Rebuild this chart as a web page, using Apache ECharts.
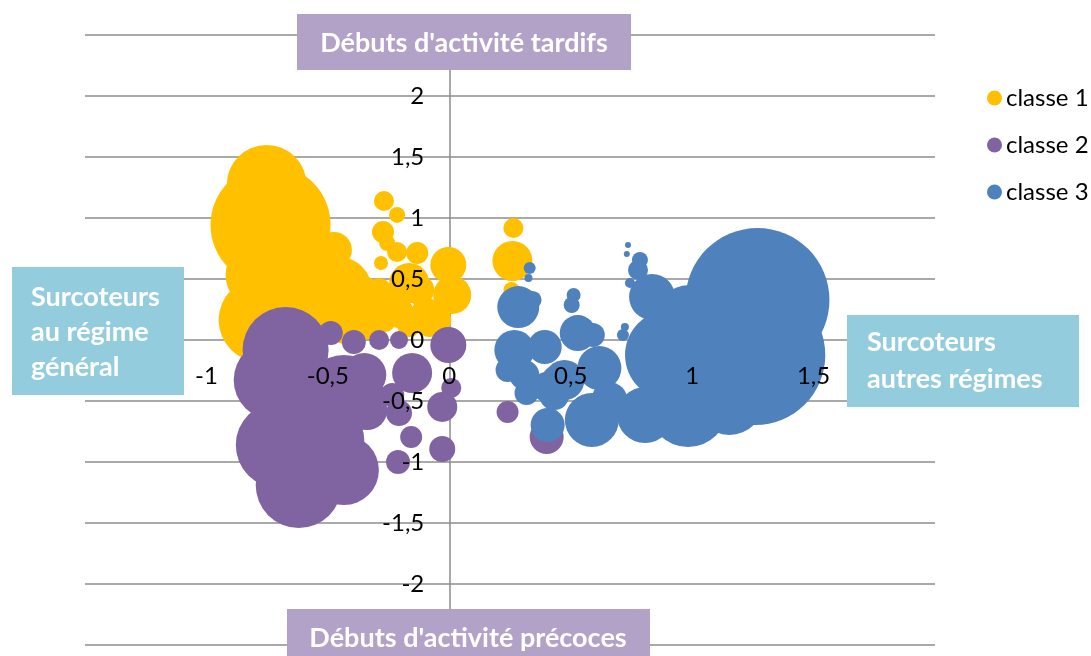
<!DOCTYPE html>
<html>
<head>
<meta charset="utf-8">
<script src="https://cdn.jsdelivr.net/npm/echarts@6/dist/echarts.min.js"></script>
<style>html,body{margin:0;padding:0;background:#fff;}#c{width:1091px;height:656px;}</style>
</head>
<body>
<div id="c"></div>
<script>
// Bubble data: [x, y, size]
const classe1 = [
  [-0.752, 1.270, 16], [-0.736, 0.943, 36], [-0.777, 0.533, 12.25], [-0.777, 0.164, 17.6],
  [-0.597, 0.656, 12.25], [-0.576, 0.328, 12.25], [-0.371, 0.328, 6.25], [-0.350, 0.123, 2.25],
  [-0.455, 0.410, 10.9], [-0.475, 0.738, 3.24], [-0.413, 0.164, 6.25],
  [-0.269, 1.139, 1], [-0.215, 1.025, 0.64], [-0.273, 0.885, 1.21], [-0.256, 0.795, 0.64],
  [-0.215, 0.721, 1], [-0.132, 0.713, 1.21], [-0.281, 0.631, 0.49], [-0.004, 0.615, 3.24],
  [0.012, 0.369, 3.61], [-0.165, 0.467, 4], [-0.207, 0.221, 2.25], [-0.095, 0.221, 2.25],
  [-0.289, 0.410, 1.44], [-0.041, 0.164, 1.44], [-0.226, 0.328, 2.25], [-0.124, 0.410, 2.25],
  [-0.082, 0.123, 1.44], [-0.268, 0.164, 1.44], [-0.165, 0.123, 1.44],
  [0.264, 0.918, 1], [0.260, 0.648, 4], [0.256, 0.410, 0.64]
];
const classe2 = [
  [-0.674, -0.082, 18.5], [-0.723, -0.328, 16], [-0.702, -0.861, 18.5], [-0.620, -1.189, 18.5],
  [-0.434, -1.066, 12.25], [-0.434, -0.451, 16], [-0.576, -0.574, 16], [-0.494, -0.820, 12.25],
  [-0.350, -0.287, 4.84], [-0.338, -0.574, 4], [-0.235, -0.451, 1.44],
  [-0.488, 0.057, 1.44], [-0.393, -0.016, 1.44],
  [-0.289, 0.000, 1], [-0.207, 0.000, 0.81], [-0.153, -0.270, 4], [-0.207, -0.598, 1.69],
  [-0.157, -0.795, 1.21], [-0.211, -1.000, 1.44], [-0.004, -0.041, 3.24], [0.008, -0.393, 1],
  [-0.029, -0.549, 2.25], [-0.029, -0.893, 1.69], [0.240, -0.590, 1.21], [0.401, -0.795, 2.89]
];
const classe3 = [
  [0.331, 0.590, 0.36], [0.326, 0.508, 0.16], [0.284, 0.270, 4.41], [0.343, 0.328, 0.81],
  [0.512, 0.369, 0.49], [0.504, 0.287, 0.64], [0.268, -0.082, 4], [0.393, -0.057, 2.89],
  [0.240, -0.246, 1.44], [0.318, -0.434, 1.44], [0.401, -0.385, 2.25], [0.529, 0.057, 3.24],
  [0.591, 0.041, 1.44], [0.618, -0.230, 4.84], [0.587, -0.656, 7.29], [0.405, -0.697, 2.89],
  [0.442, -0.328, 2.25], [0.309, -0.287, 2.25], [0.432, -0.451, 2.25], [0.474, -0.328, 4],
  [0.659, -0.492, 3.24],
  [0.736, 0.779, 0.09], [0.731, 0.705, 0.09], [0.785, 0.656, 0.64],
  [0.777, 0.574, 1], [0.744, 0.467, 0.25], [0.835, 0.352, 5.29], [0.723, 0.107, 0.16],
  [0.715, 0.041, 0.36], [0.806, -0.615, 7.84], [0.983, -0.549, 16], [0.909, -0.123, 20.25],
  [0.988, 0.164, 12.25], [1.153, -0.492, 12.25],
  [1.269, 0.328, 51.8], [1.260, -0.123, 49]
];
const seriesNames = ['classe 1', 'classe 2', 'classe 3'];
const xTicks = [-1, -0.5, 0, 0.5, 1, 1.5];
const yTicks = [-2, -1.5, -1, -0.5, 0, 0.5, 1, 1.5, 2];
const boxTop = "Débuts d'activité tardifs";
const boxBottom = "Débuts d'activité précoces";
const boxLeft = "Surcoteurs\nau régime\ngénéral";
const boxRight = "Surcoteurs\nautres régimes";

const colors = ['#FFC000', '#8064A2', '#4F81BD'];
const FONT = 'Lato, "Open Sans", sans-serif';
const fmt = (ticks) => (v) => {
  const hit = ticks.some(t => Math.abs(t - v) < 1e-9);
  return hit ? String(v).replace('.', ',') : '';
};
const gridColor = '#8c8c8c';

const chart = echarts.init(document.getElementById('c'), null, {renderer: 'canvas'});
const sz = (v) => 20 * Math.sqrt(v[2]);
const mk = (name, data, color) => ({
  name, type: 'scatter', data, xAxisIndex: 0, yAxisIndex: 0,
  symbolSize: sz, itemStyle: {color, opacity: 1}, emphasis: {disabled: true}, z: 2
});

// grid geometry
const G = {left: 85, right: 156, top: 35, bottom: 11};
const W = 1091, H = 656;
const xMin = -1.5, xMax = 2, yMin = -2.5, yMax = 2.5;
const plotW = W - G.left - G.right, plotH = H - G.top - G.bottom;
const zeroXOffset = -((0 - xMin) / (xMax - xMin)) * plotW;   // left axis moved to x=0
const zeroYOffset = -((0 - yMin) / (yMax - yMin)) * plotH;   // bottom axis moved to y=0

chart.setOption({
  animation: false,
  color: colors,
  grid: Object.assign({containLabel: false, outerBoundsMode: 'none'}, G),
  xAxis: [
    {type: 'value', min: xMin, max: xMax, interval: 0.5, z: 0,
     axisLine: {show: false, onZero: false},
     axisTick: {show: false}, axisLabel: {show: false}, splitLine: {show: false}},
    {type: 'value', min: xMin, max: xMax, interval: 0.5, position: 'bottom', offset: zeroYOffset, z: 10,
     axisLine: {show: false, onZero: false},
     axisTick: {show: false}, splitLine: {show: false},
     axisLabel: {show: true, margin: 24, color: '#000', fontSize: 24, fontFamily: FONT, formatter: fmt(xTicks)}}
  ],
  yAxis: [
    {type: 'value', min: yMin, max: yMax, interval: 0.5, z: 0,
     axisLine: {show: true, onZero: true, onZeroAxisIndex: 0, lineStyle: {color: gridColor, width: 1.5}},
     axisTick: {show: false}, axisLabel: {show: false},
     splitLine: {show: true, lineStyle: {color: gridColor, width: 1.5}}},
    {type: 'value', min: yMin, max: yMax, interval: 0.5, position: 'left', offset: zeroXOffset, z: 10,
     axisLine: {show: false, onZero: false},
     axisTick: {show: false}, splitLine: {show: false},
     axisLabel: {show: true, margin: 25, color: '#000', fontSize: 24, fontFamily: FONT, formatter: fmt(yTicks)}}
  ],
  legend: {
    orient: 'vertical', left: 982, top: 81, itemGap: 23, itemWidth: 15, itemHeight: 15,
    icon: 'circle', textStyle: {fontSize: 24, fontFamily: FONT, color: '#000', padding: [0, 0, 0, -1]},
    data: seriesNames
  },
  series: [
    mk(seriesNames[0], classe1, colors[0]),
    mk(seriesNames[1], classe2, colors[1]),
    mk(seriesNames[2], classe3, colors[2])
  ],
  graphic: [
    {type: 'rect', z: 100, shape: {x: 297, y: 14, width: 334, height: 56}, style: {fill: '#B3A2C7'}},
    {type: 'text', z: 101, x: 464, y: 43, style: {text: boxTop, fill: '#fff', font: 'bold 27px ' + FONT, align: 'center', verticalAlign: 'middle'}},
    {type: 'rect', z: 100, shape: {x: 287, y: 609, width: 363, height: 60}, style: {fill: '#B3A2C7'}},
    {type: 'text', z: 101, x: 468, y: 638, style: {text: boxBottom, fill: '#fff', font: 'bold 27px ' + FONT, align: 'center', verticalAlign: 'middle'}},
    {type: 'rect', z: 100, shape: {x: 12, y: 267, width: 172, height: 128}, style: {fill: '#93CDDD'}},
    {type: 'text', z: 101, x: 31, y: 332, style: {text: boxLeft, fill: '#fff', font: 'bold 27px ' + FONT, lineHeight: 35, align: 'left', verticalAlign: 'middle'}},
    {type: 'rect', z: 100, shape: {x: 847, y: 315, width: 232, height: 92}, style: {fill: '#93CDDD'}},
    {type: 'text', z: 101, x: 867, y: 361, style: {text: boxRight, fill: '#fff', font: 'bold 27px ' + FONT, lineHeight: 37, align: 'left', verticalAlign: 'middle'}}
  ]
});
</script>
</body>
</html>
